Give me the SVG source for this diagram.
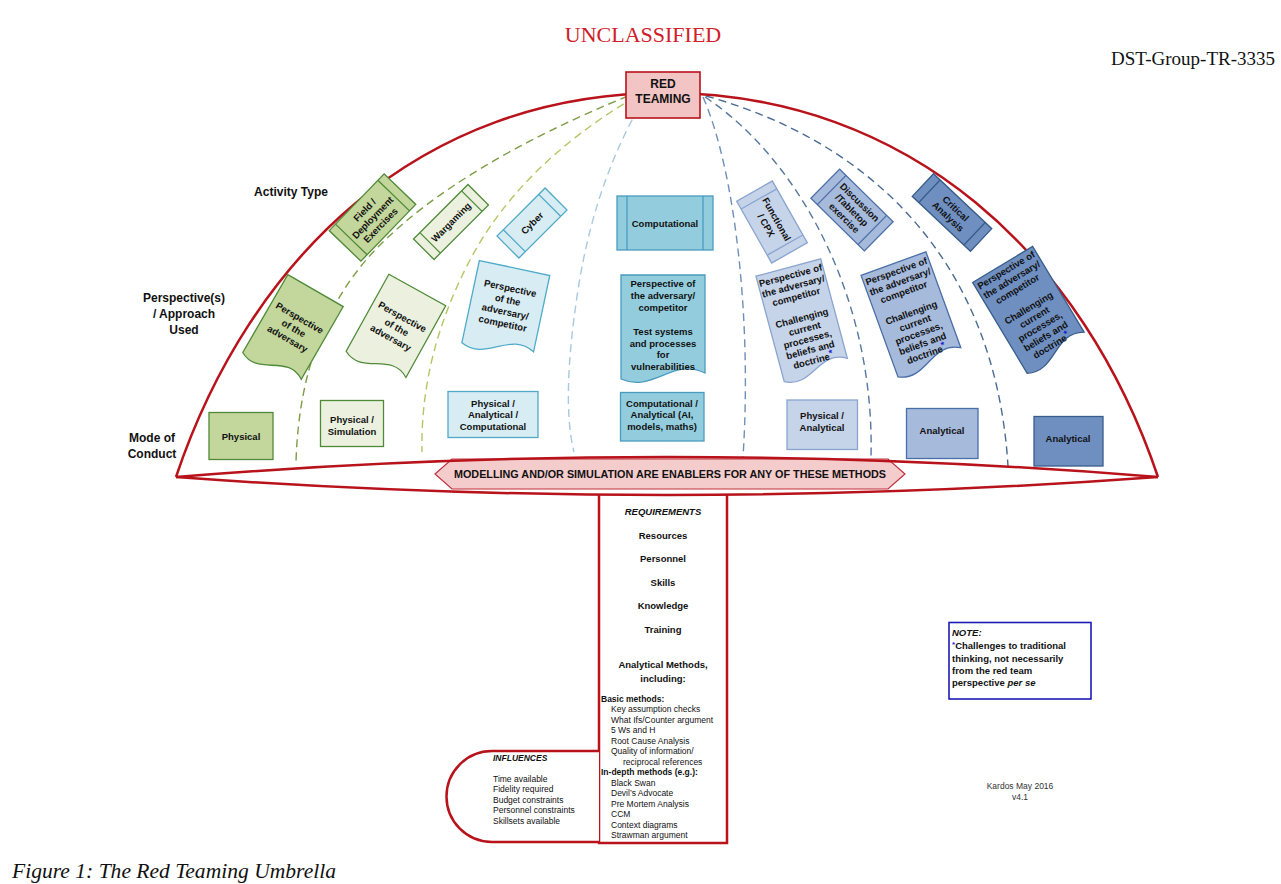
<svg xmlns="http://www.w3.org/2000/svg" width="1281" height="884" viewBox="0 0 1281 884">
<style>
text{font-family:"Liberation Sans",Arial,sans-serif;fill:#111;}
.s{font-size:9.5px;font-weight:bold;text-anchor:middle;}
.lbl{font-size:12px;font-weight:bold;text-anchor:middle;}
.sm{font-size:8.5px;}
.g1{fill:#c3d69b;stroke:#4f8a38;stroke-width:1.3;}
.g2{fill:#ebf1de;stroke:#4f8a38;stroke-width:1.3;}
.c1{fill:#d7ecf3;stroke:#4faac8;stroke-width:1.3;}
.c2{fill:#93cddd;stroke:#4a9bc0;stroke-width:1.3;}
.b1{fill:#c6d4ea;stroke:#8aa4cf;stroke-width:1.3;}
.b2{fill:#a6badb;stroke:#4a6ea8;stroke-width:1.3;}
.b3{fill:#6f8fc1;stroke:#385d8a;stroke-width:1.3;}
.dash{fill:none;stroke-width:1.4;stroke-dasharray:8 5;}
.red{fill:none;stroke:#b8121b;stroke-width:2.5;}
.ast{fill:#2323d0;}
.serif{font-family:"Liberation Serif","Times New Roman",serif;}
</style>

<!-- header texts -->
<text class="serif" x="643" y="42" font-size="22" text-anchor="middle" style="fill:#d0202a">UNCLASSIFIED</text>
<text class="serif" x="1275" y="65" font-size="19" text-anchor="end">DST-Group-TR-3335</text>
<text class="serif" x="12" y="878" font-size="21" font-style="italic" textLength="324" lengthAdjust="spacingAndGlyphs">Figure 1: The Red Teaming Umbrella</text>

<!-- connectors: dashed ribs -->
<g id="connectors">
<path class="dash" stroke="#7d9c45" d="M628,96 Q460,165 380,245 T296,462"/>
<path class="dash" stroke="#b1c764" d="M635,97 Q520,165 470,260 T422,452"/>
<path class="dash" stroke="#a9c9de" d="M645,97 Q595,180 578,290 T574,452"/>
<path class="dash" stroke="#6f8fb8" d="M703,97 C735,170 752,320 743,457"/>
<path class="dash" stroke="#56789f" d="M705,97 C800,160 875,300 871,457"/>
<path class="dash" stroke="#4a6a92" d="M706,96 C865,140 995,255 1008,466"/>
</g>

<!-- umbrella canopy -->
<g id="umbrella">
<path class="red" d="M176,477 C250,257 420,93 665,93 C910,93 1084,257 1158,477"/>
<path class="red" d="M599,494 V843 H727 V494" style="fill:#fff"/>
<path class="red" d="M599,751 H492 A45.5,45.5 0 0 0 492,842 H599" style="fill:#fff"/>
</g>

<g id="banner">
<path d="M435,474 L452,459 H888 L905,474 L888,489 H452 Z" fill="#f4cccc" stroke="#c0303a" stroke-width="1.2"/>
<text x="670" y="478" font-size="10.8" font-weight="bold" text-anchor="middle">MODELLING AND/OR SIMULATION ARE ENABLERS FOR ANY OF THESE METHODS</text>
</g>
<path class="red" d="M176,477 Q667,437 1158,477"/>
<path class="red" d="M176,477 Q667,513 1158,477"/>

<!-- root -->
<g id="red-teaming">
<rect x="626" y="72" width="74" height="46" fill="#f2c4c4" stroke="#b8121b" stroke-width="1.6"/>
<text x="663" y="88" font-size="12" font-weight="bold" text-anchor="middle">RED</text>
<text x="663" y="103" font-size="12" font-weight="bold" text-anchor="middle">TEAMING</text>
</g>

<!-- row labels -->
<g id="row-labels">
<text x="291" y="196" class="lbl">Activity Type</text>
<text x="184" y="302" class="lbl">Perspective(s)</text>
<text x="184" y="318" class="lbl">/ Approach</text>
<text x="184" y="334" class="lbl">Used</text>
<text x="152" y="442" class="lbl">Mode of</text>
<text x="152" y="458" class="lbl">Conduct</text>
</g>

<!-- Activity types -->
<g id="act-field" transform="translate(372.5,217.5) rotate(-46)">
<rect class="g1" x="-39.5" y="-22" width="79" height="44"/>
<path class="g1" d="M-30.5,-22 V22 M30.5,-22 V22"/>
<text class="s" y="-7.5">Field /</text><text class="s" y="3.5">Deployment</text><text class="s" y="14.5">Exercises</text>
</g>
<g id="act-wargaming" transform="translate(451,222) rotate(-45)">
<rect class="g2" x="-38.5" y="-14.5" width="77" height="29"/>
<path class="g2" d="M-29.5,-14.5 V14.5 M29.5,-14.5 V14.5"/>
<text class="s" y="3.5">Wargaming</text>
</g>
<g id="act-cyber" transform="translate(532,223) rotate(-45)">
<rect class="c1" x="-34" y="-15.5" width="68" height="31"/>
<path class="c1" d="M-25,-15.5 V15.5 M25,-15.5 V15.5"/>
<text class="s" y="3.5">Cyber</text>
</g>
<g id="act-computational">
<rect class="c2" x="617" y="196" width="96" height="54"/>
<path class="c2" d="M627,196 V250 M703,196 V250"/>
<text class="s" x="665" y="226.5">Computational</text>
</g>
<g id="act-functional" transform="translate(772,222) rotate(60.5)">
<rect class="b1" x="-35.5" y="-20.5" width="71" height="41"/>
<path class="b1" d="M-26.5,-20.5 V20.5 M26.5,-20.5 V20.5"/>
<text class="s" y="-2" font-size="10">Functional</text><text class="s" y="10" font-size="10">/ CPX</text>
</g>
<g id="act-discussion" transform="translate(852,210) rotate(44.5)">
<rect class="b2" x="-37.5" y="-20.5" width="75" height="41"/>
<path class="b2" d="M-28.5,-20.5 V20.5 M28.5,-20.5 V20.5"/>
<text class="s" y="-7.5">Discussion</text><text class="s" y="3.5">/Tabletop</text><text class="s" y="14.5">exercise</text>
</g>
<g id="act-critical" transform="translate(952,212.5) rotate(43.3)">
<rect class="b3" x="-40" y="-15.5" width="80" height="31"/>
<path class="b3" d="M-31,-15.5 V15.5 M31,-15.5 V15.5"/>
<text class="s" y="-2">Critical</text><text class="s" y="9">Analysis</text>
</g>

<!-- Perspectives -->
<g id="per-1" transform="translate(291,333) rotate(30)">
<path class="g1" d="M-32,-49 H32 V35 C7.7,19 -7.7,55 -32,41 Z"/>
<text class="s" y="-14">Perspective</text><text class="s" y="-2">of the</text><text class="s" y="10">adversary</text>
</g>
<g id="per-2" transform="translate(394,332) rotate(29)">
<path class="g2" d="M-32.5,-48 H32.5 V34 C7.8,18 -7.8,54 -32.5,40 Z"/>
<text class="s" y="-14">Perspective</text><text class="s" y="-2">of the</text><text class="s" y="10">adversary</text>
</g>
<g id="per-3" transform="translate(505,313) rotate(12)">
<path class="c1" d="M-36,-46 H36 V32 C8.6,16 -8.6,52 -36,38 Z"/>
<text class="s" y="-22">Perspective</text><text class="s" y="-10">of the</text><text class="s" y="2">adversary/</text><text class="s" y="14">competitor</text>
</g>
<g id="per-4" transform="translate(663,333)">
<path class="c2" d="M-42,-58 H42 V40 C10,24 -10,60 -42,46 Z"/>
<text class="s" y="-46">Perspective of</text><text class="s" y="-34">the adversary/</text><text class="s" y="-22">competitor</text>
<text class="s" y="2">Test systems</text><text class="s" y="13.5">and processes</text><text class="s" y="25">for</text><text class="s" y="37">vulnerabilities</text>
</g>
<g id="per-5" transform="translate(804,326) rotate(-15)">
<path class="b1" d="M-33.5,-60.5 H33.5 V42.5 C8,26.5 -8,62.5 -33.5,48.5 Z"/>
<text class="s" y="-49">Perspective of</text><text class="s" y="-38">the adversary/</text><text class="s" y="-27">competitor</text>
<text class="s" y="-5">Challenging</text><text class="s" y="6">current</text><text class="s" y="17">processes,</text><text class="s" y="28">beliefs and</text><text class="s" y="39">doctrine<tspan class="ast" dy="-3">*</tspan></text>
</g>
<g id="per-6" transform="translate(914,320) rotate(-20)">
<path class="b2" d="M-34.5,-60 H34.5 V42 C8.3,26 -8.3,62 -34.5,48 Z"/>
<text class="s" y="-48.5">Perspective of</text><text class="s" y="-37.5">the adversary/</text><text class="s" y="-26.5">competitor</text>
<text class="s" y="-4.5">Challenging</text><text class="s" y="6.5">current</text><text class="s" y="17.5">processes,</text><text class="s" y="28.5">beliefs and</text><text class="s" y="39.5">doctrine<tspan class="ast" dy="-3">*</tspan></text>
</g>
<g id="per-7" transform="translate(1033,315) rotate(-31)">
<path class="b3" d="M-35,-59 H35 V41 C8.4,25 -8.4,61 -35,47 Z"/>
<text class="s" y="-49">Perspective of</text><text class="s" y="-38">the adversary/</text><text class="s" y="-27">competitor</text>
<text class="s" y="-5">Challenging</text><text class="s" y="6">current</text><text class="s" y="17">processes,</text><text class="s" y="28">beliefs and</text><text class="s" y="39">doctrine<tspan class="ast" dy="-3">*</tspan></text>
</g>

<!-- Modes of conduct -->
<g id="mode-1"><rect class="g1" x="209" y="412.5" width="64" height="47"/><text class="s" x="241" y="439.5">Physical</text></g>
<g id="mode-2"><rect class="g2" x="320.5" y="400.5" width="63" height="46"/><text class="s" x="352" y="422.5">Physical /</text><text class="s" x="352" y="434.5">Simulation</text></g>
<g id="mode-3"><rect class="c1" x="448" y="391.5" width="90" height="46"/><text class="s" x="493" y="406.5">Physical /</text><text class="s" x="493" y="418">Analytical /</text><text class="s" x="493" y="429.5">Computational</text></g>
<g id="mode-4"><rect class="c2" x="620.5" y="392.5" width="83.5" height="48.5"/><text class="s" x="662" y="406.5">Computational /</text><text class="s" x="662" y="418">Analytical (AI,</text><text class="s" x="662" y="429.5">models, maths)</text></g>
<g id="mode-5"><rect class="b1" x="787" y="400" width="70.5" height="49.5"/><text class="s" x="822" y="418.5">Physical /</text><text class="s" x="822" y="430.5">Analytical</text></g>
<g id="mode-6"><rect class="b2" x="906.5" y="408.5" width="71.5" height="50"/><text class="s" x="942" y="433.5">Analytical</text></g>
<g id="mode-7"><rect class="b3" x="1034" y="416.5" width="69" height="49.5"/><text class="s" x="1068" y="441.5">Analytical</text></g>

<!-- Requirements (stem) -->
<g id="requirements">
<text x="663" y="515" font-size="9.5" font-weight="bold" font-style="italic" text-anchor="middle">REQUIREMENTS</text>
<text class="s" x="663" y="539">Resources</text>
<text class="s" x="663" y="562">Personnel</text>
<text class="s" x="663" y="586">Skills</text>
<text class="s" x="663" y="609">Knowledge</text>
<text class="s" x="663" y="633">Training</text>
<text class="s" x="663" y="668" font-size="10">Analytical Methods,</text>
<text class="s" x="663" y="682" font-size="10">including:</text>
<g class="sm">
<text x="601" y="702" font-weight="bold">Basic methods:</text>
<text x="611" y="712">Key assumption checks</text>
<text x="611" y="723">What Ifs/Counter argument</text>
<text x="611" y="733">5 Ws and H</text>
<text x="611" y="744">Root Cause Analysis</text>
<text x="611" y="754">Quality of information/</text>
<text x="623" y="765">reciprocal references</text>
<text x="601" y="775" font-weight="bold">In-depth methods (e.g.):</text>
<text x="611" y="786">Black Swan</text>
<text x="611" y="796">Devil’s Advocate</text>
<text x="611" y="807">Pre Mortem Analysis</text>
<text x="611" y="817">CCM</text>
<text x="611" y="828">Context diagrams</text>
<text x="611" y="838">Strawman argument</text>
</g>
</g>

<!-- Influences (handle) -->
<g id="influences" class="sm">
<text x="493" y="761" font-weight="bold" font-style="italic">INFLUENCES</text>
<text x="493" y="782">Time available</text>
<text x="493" y="792">Fidelity required</text>
<text x="493" y="803">Budget constraints</text>
<text x="493" y="813">Personnel constraints</text>
<text x="493" y="824">Skillsets available</text>
</g>

<!-- Note -->
<g id="note">
<rect x="949" y="622.5" width="142" height="76.5" fill="#fff" stroke="#1c1cb4" stroke-width="1.6"/>
<g font-size="9.5" font-weight="bold">
<text x="952" y="636" font-style="italic">NOTE:</text>
<text x="952" y="649"><tspan class="ast" font-size="8" dy="-2">*</tspan><tspan dy="2">Challenges to traditional</tspan></text>
<text x="952" y="662">thinking, not necessarily</text>
<text x="952" y="674">from the red team</text>
<text x="952" y="686">perspective <tspan font-style="italic">per se</tspan></text>
</g>
</g>

<g id="credit" class="sm" text-anchor="middle">
<text x="1020" y="789" style="fill:#333">Kardos May 2016</text>
<text x="1020" y="800" style="fill:#333">v4.1</text>
</g>
</svg>
